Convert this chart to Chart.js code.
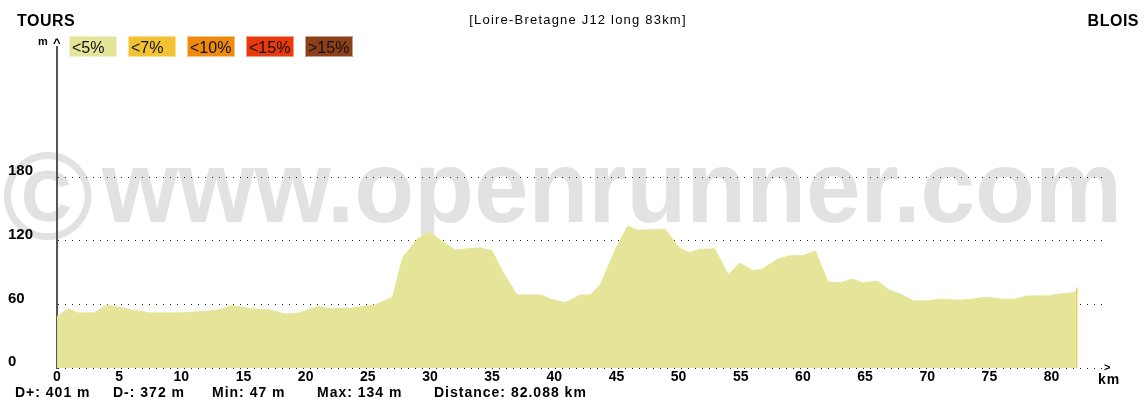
<!DOCTYPE html>
<html lang="fr">
<head>
<meta charset="UTF-8" />
<title>Profil | Loire-Bretagne J12 long 83km</title>
<script src="https://cdn.jsdelivr.net/npm/chart.js"></script>
<style>
  body { margin: 0; padding: 0; background: #fff; }
  .chart-container { position: relative; width: 1146px; height: 401px; }
</style>
</head>
<body>
<div class="chart-container"><canvas id="profil"></canvas></div>
<script>
// profil altimetrique (km / m)
const distanceKm = [0, 0.9, 1.7, 3.0, 4.0, 5.9, 7.5, 9.9, 11.5, 13.1, 14.1, 15.5, 17.1, 18.3, 19.5,
  21.0, 22.0, 23.6, 25.6, 27.0, 27.8, 29.0, 30.0, 30.8, 32.0, 33.0, 34.0, 35.0, 35.9, 37.0,
  38.9, 39.7, 40.9, 42.1, 42.9, 43.7, 44.9, 45.9, 46.7, 48.9, 50.1, 50.9, 51.7, 52.9, 54.0,
  54.9, 56.0, 56.7, 58.0, 59.0, 60.0, 61.0, 62.0, 63.0, 64.0, 64.8, 66.0, 66.9, 67.8, 68.9,
  70.0, 71.0, 72.6, 73.7, 74.8, 75.9, 77.1, 78.0, 79.9, 80.1, 81.7, 81.95];
const altitudeM = [48.5, 55.7, 52, 52, 59.5, 55, 52, 52, 53, 55, 59, 56, 55, 51, 52,
  58, 56, 56.4, 59.5, 67, 104, 122, 128.5, 121, 111.5, 112.5, 113.4, 110.6, 89.8, 69,
  69, 65, 61.7, 69, 69, 78.5, 111.5, 134, 130, 131, 113, 108.7, 112, 112.5, 88,
  99, 92, 93, 103, 106, 106, 110.6, 81.3, 80.3, 84, 80.3, 82, 73.7, 70, 63.3,
  63.3, 65, 64, 65, 67, 65, 65, 68, 68, 69, 71, 72];
// dernier troncon, pente < 7%
const steepKm = [81.95, 82.088];
const steepAlt = [72, 76];

const xTicks = [0, 5, 10, 15, 20, 25, 30, 35, 40, 45, 50, 55, 60, 65, 70, 75, 80];
const yTicks = [0, 60, 120, 180];
const slopeLabels = ['<5%', '<7%', '<10%', '<15%', '>15%'];
const slopeColors = ['#e5e599', '#f2c232', '#f08a0c', '#e83a0c', '#8c4018'];
const stats = ['D+: 401 m', 'D-: 372 m', 'Min: 47 m', 'Max: 134 m', 'Distance: 82.088 km'];
const startName = 'TOURS';
const endName = 'BLOIS';
const routeName = '[Loire-Bretagne J12 long 83km]';

const FONT = '"Liberation Sans", Arial, sans-serif';

const decor = {
  id: 'decor',
  beforeDraw(chart) {
    const ctx = chart.ctx;
    ctx.save();
    ctx.fillStyle = '#e2e2e2';
    ctx.textBaseline = 'alphabetic';
    ctx.font = 'bold 124px ' + FONT;
    ctx.fillText('\u00a9', 2, 239);
    ctx.font = 'bold 102px ' + FONT;
    ctx.fillText('www.openrunner.com', 102, 222, 1020);
    ctx.restore();
  },
  afterDraw(chart) {
    const ctx = chart.ctx;
    ctx.save();
    ctx.fillStyle = '#000';
    ctx.textBaseline = 'alphabetic';

    ctx.font = 'bold 16px ' + FONT;
    ctx.letterSpacing = '0.5px';
    ctx.textAlign = 'left';
    ctx.fillText(startName, 17, 26);
    ctx.textAlign = 'right';
    ctx.fillText(endName, 1139, 26);

    ctx.font = '13px ' + FONT;
    ctx.letterSpacing = '1.2px';
    ctx.textAlign = 'center';
    ctx.fillText(routeName, 578, 24);

    // legende des pentes
    ctx.textAlign = 'left';
    ctx.font = '16px ' + FONT;
    ctx.letterSpacing = '0px';
    slopeLabels.forEach((lab, i) => {
      const x = 69 + i * 59;
      ctx.fillStyle = slopeColors[i];
      ctx.fillRect(x, 36, 48, 21);
      ctx.strokeStyle = 'rgba(255,255,255,0.5)';
      ctx.lineWidth = 1;
      ctx.strokeRect(x + 0.5, 36.5, 47, 20);
      ctx.fillStyle = '#111';
      ctx.fillText(lab, x + 3, 53);
    });

    ctx.fillStyle = '#000';
    ctx.font = 'bold 11px ' + FONT;
    ctx.fillText('m', 38, 45);
    ctx.font = 'bold 13px ' + FONT;
    ctx.fillText('^', 53, 47);

    ctx.font = 'bold 11px ' + FONT;
    ctx.textBaseline = 'middle';
    ctx.fillText('>', 1104, 368);

    ctx.textBaseline = 'alphabetic';
    ctx.font = 'bold 14px ' + FONT;
    ctx.letterSpacing = '1px';
    ctx.fillText('km', 1098, 384);

    const sx = [15, 113, 212, 317, 434];
    stats.forEach((s, i) => ctx.fillText(s, sx[i], 397));
    ctx.restore();
  }
};

const ctx = document.getElementById('profil').getContext('2d');
new Chart(ctx, {
  type: 'line',
  data: {
    datasets: [{
      data: distanceKm.map((d, i) => ({ x: d, y: altitudeM[i] })),
      backgroundColor: slopeColors[0],
      borderColor: slopeColors[0],
      borderWidth: 1,
      pointRadius: 0,
      fill: 'origin',
      tension: 0
    }, {
      data: steepKm.map((d, i) => ({ x: d, y: steepAlt[i] })),
      backgroundColor: slopeColors[1],
      borderColor: slopeColors[1],
      borderWidth: 1,
      pointRadius: 0,
      fill: 'origin',
      tension: 0
    }]
  },
  options: {
    responsive: true,
    maintainAspectRatio: false,
    devicePixelRatio: 1,
    animation: false,
    layout: { padding: { left: 8, top: 47, right: 41, bottom: 0 } },
    plugins: { legend: { display: false }, tooltip: { enabled: false } },
    scales: {
      x: {
        type: 'linear',
        min: 0,
        max: 84.3,
        afterBuildTicks: s => { s.ticks = xTicks.map(v => ({ value: v })); },
        afterFit: s => { s.height = 33; },
        grid: { display: false, drawTicks: false },
        border: { display: false },
        ticks: {
          color: '#000',
          padding: 1,
          maxRotation: 0,
          autoSkip: false,
          font: { family: FONT, size: 14, weight: 'bold' }
        }
      },
      y: {
        min: 0,
        max: 303,
        afterBuildTicks: s => { s.ticks = yTicks.map(v => ({ value: v })); },
        afterFit: s => { s.width = 49; },
        grid: { color: '#222', lineWidth: 1, drawTicks: false },
        border: { display: true, color: '#555', width: 2, dash: [1, 6] },
        ticks: {
          color: '#000',
          crossAlign: 'far',
          labelOffset: -6,
          padding: 0,
          font: { family: FONT, size: 15, weight: 'bold' }
        }
      }
    }
  },
  plugins: [decor]
});
</script>
</body>
</html>
